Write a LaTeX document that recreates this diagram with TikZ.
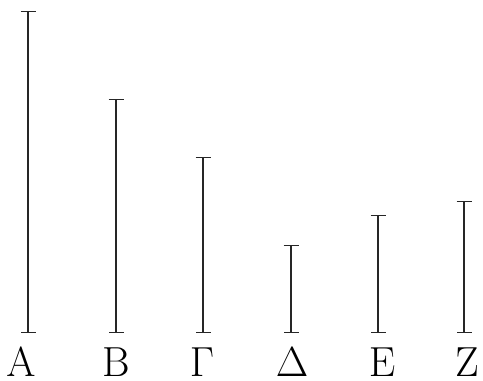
\documentclass[tikz,border=0pt]{standalone}
\usepackage{amsmath}
\usetikzlibrary{arrows.meta}

\begin{document}
\begin{tikzpicture}[
    x=1pt, y=-1pt,
    rangebar/.style={{Bar[width=15pt,line width=1.1pt]}-{Bar[width=15pt,line width=1.1pt]}, line width=1.1pt, black!85},
    letter/.style={anchor=base, inner sep=0pt, font=\Huge, scale=1.69},
]
\useasboundingbox (0,0) rectangle (483,381);

% Range ends
\coordinate (aTop) at (28,11);   \coordinate (aBot) at (28,333);
\coordinate (bTop) at (116,99);  \coordinate (bBot) at (116,333);
\coordinate (gTop) at (203,157); \coordinate (gBot) at (203,333);
\coordinate (dTop) at (291,245); \coordinate (dBot) at (291,333);
\coordinate (eTop) at (378,215); \coordinate (eBot) at (378,333);
\coordinate (zTop) at (464,201); \coordinate (zBot) at (464,333);

% Ranges
\draw[rangebar] (aBot) -- (aTop);
\draw[rangebar] (bBot) -- (bTop);
\draw[rangebar] (gBot) -- (gTop);
\draw[rangebar] (dBot) -- (dTop);
\draw[rangebar] (eBot) -- (eTop);
\draw[rangebar] (zBot) -- (zTop);

% Letters
\node[letter] (alpha) at (21,376) {$\mathrm{A}$};
\node[letter] (beta) at (116,376) {$\mathrm{B}$};
\node[letter] (gamma) at (202,376) {$\Gamma$};
\node[letter] (delta) at (292,376) {$\Delta$};
\node[letter] (epsilon) at (382,376) {$\mathrm{E}$};
\node[letter] (zeta) at (467,376) {$\mathrm{Z}$};

\end{tikzpicture}
\end{document}
